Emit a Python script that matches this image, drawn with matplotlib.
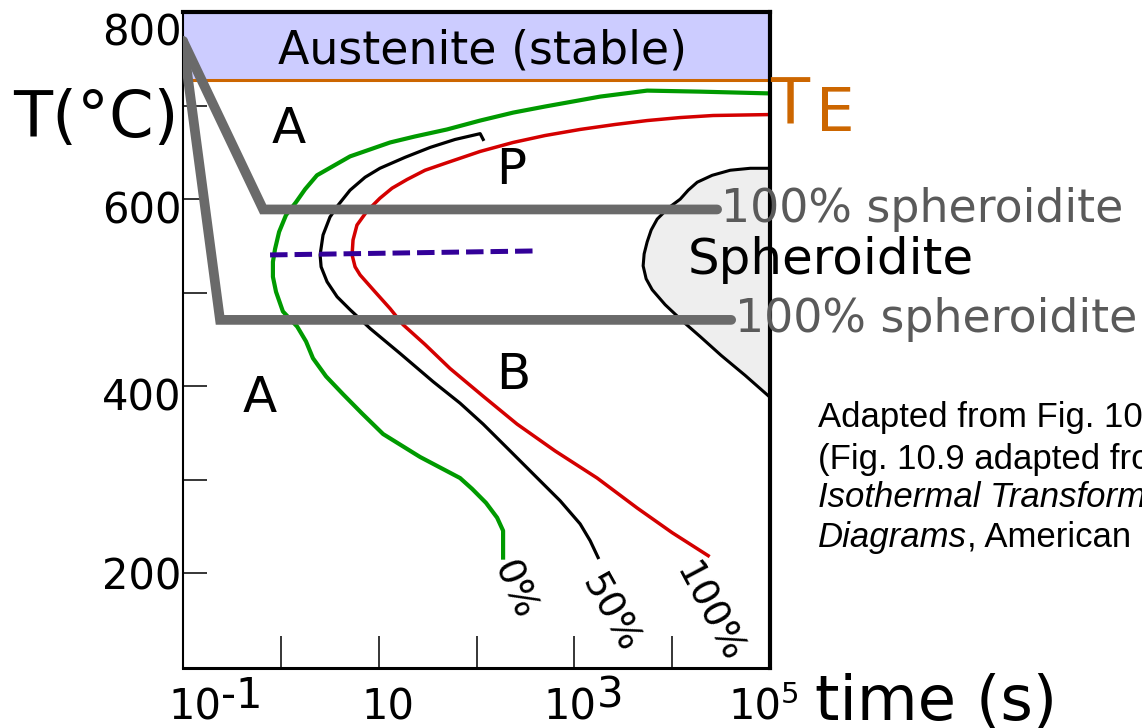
import numpy as np
import matplotlib
matplotlib.use('Agg')
import matplotlib.pyplot as plt
from matplotlib.transforms import ScaledTranslation

# 数据 (time in s, temperature in °C)
T_E = 727
T_MIN, T_MAX = 99, 800

# 0% curve (start of transformation)
t_start = np.array([1e5, 19320, 5550, 1837, 502, 237, 109, 50, 23.5, 13.1, 5.1, 2.34,
                    1.77, 1.43, 1.13, 0.96, 0.873, 0.83, 0.83, 0.893, 1.05, 1.47, 1.81,
                    2.13, 2.9, 4.33, 6.76, 11.1, 26.5, 67.9, 90.2, 125, 162.5, 187, 187])
T_start = np.array([713, 714.9, 716, 709.6, 699, 692.5, 684, 674.5, 667, 660.6, 645.7,
                    625.5, 610.6, 596.8, 583, 565, 546.8, 533, 517, 501, 480, 463.8,
                    447.9, 430, 410.6, 391.5, 371, 349, 324.5, 302, 290.4, 275.5, 259.6,
                    245.7, 217])

# 50% curve
t_half = np.array([117, 109, 60.4, 33.6, 18.6, 10.3, 7.26, 5.1, 3.85, 3.18, 2.70, 2.52,
                   2.58, 2.97, 3.76, 5.1, 8.2, 16.6, 36, 67.9, 117, 221, 447, 716, 1146,
                   1452, 1750])
T_half = np.array([663.8, 670, 663.8, 655.3, 644.7, 633, 623.4, 609.6, 593.6, 580.9,
                   561.7, 540.4, 527.7, 511.7, 495.7, 481.9, 461.7, 435, 405, 382, 359.6,
                   330.9, 299, 277.7, 253, 235, 217])

# 100% curve (end of transformation)
t_end = np.array([1e5, 26240, 12080, 5546, 2612, 1146, 502, 237, 109, 50, 29.8, 19.5,
                  13.7, 10.3, 7.6, 6.0, 5.47, 5.35, 5.74, 6.46, 9.18, 13.1, 17.7, 29.8,
                  53.7, 117, 260, 637, 1710, 4385, 10000, 23350])
T_end = np.array([690.4, 689.4, 687.2, 684, 679.8, 674.5, 668, 660.6, 651, 639, 630.9,
                  621, 611.7, 601, 587.2, 572.3, 556.4, 540.4, 527.7, 519, 501, 483, 466,
                  444.7, 419, 389.4, 359.6, 330.9, 302, 270, 243.6, 219])

# spheroidite region outline
t_sph = np.array([1e5, 62800, 39200, 25650, 18030, 14590, 12080, 9100, 7030, 6100, 5550,
                  5170, 5050, 5420, 6250, 8480, 12940, 19320, 31700, 55700, 1e5])
T_sph = np.array([633, 633, 630.9, 625.5, 618.1, 609.6, 600, 590.4, 578.7, 567, 554.3,
                  541.5, 528.7, 514.9, 503.2, 487.2, 469.1, 453.2, 433, 411.7, 388.3])

# cooling paths
t_path1 = [0.1, 0.66, 28800]
T_path1 = [769, 589, 589]
t_path2 = [0.1, 0.239, 40100]
T_path2 = [769, 471, 471]

t_iso = [0.776, 417]
T_iso = [540.4, 544.7]

x_ticks = [1, 10, 100, 1e3, 1e4]
y_ticks = [200, 300, 400, 500, 600, 700, 800]
y_labels = ['200', '', '400', '', '600', '', '800']
x_label_pos = [0.1, 10, 1e3, 1e5]
x_label_exp = ['-1', '', '3', '5']

region_labels = [('A', 1.21, 675.5), ('P', 226, 631), ('A', 0.61, 388), ('B', 237, 411.7)]
pct_labels = [('0%', 242, 182, -67), ('50%', 2270, 157, -61), ('100%', 23350, 157, -62)]

cite_lines = ['Adapted from Fig. 10.22, Callister 7e.',
              '(Fig. 10.9 adapted from H. Boyer (Ed.) Atlas of',
              'Isothermal Transformation and Cooling Transformation',
              'Diagrams']
cite_tail = ', American Society for Metals, 1977, p. 28.)'

GRAY = '#6a6a6a'
ORANGE = '#cc6600'

fig = plt.figure(figsize=(11.42, 7.28), dpi=100)
ax = fig.add_axes([183 / 1142, 60 / 728, 587 / 1142, 656 / 728])
ax.set_xscale('log')
ax.set_xlim(0.1, 1e5)
ax.set_ylim(T_MIN, T_MAX)

# austenite stable zone + TE
ax.axhspan(T_E, T_MAX, color='#ccccff', lw=0, zorder=0)
ax.axhline(T_E, color=ORANGE, lw=2.2, zorder=1)
ax.text(114, 758.5, 'Austenite (stable)', ha='center', va='center', fontsize=33)

# spheroidite region
ax.fill(t_sph, T_sph, facecolor='#eeeeee', edgecolor='black', lw=2.2, zorder=1)

# transformation curves
ax.plot(t_start, T_start, color='#009a00', lw=3, zorder=2)
ax.plot(t_half, T_half, color='black', lw=2.3, zorder=2)
ax.plot(t_end, T_end, color='#d40000', lw=2.5, zorder=2)

ax.plot(t_iso, T_iso, color='#330099', lw=3.6, dashes=(3.5, 1.4), zorder=3)

# cooling paths
for tp, Tp in [(t_path1, T_path1), (t_path2, T_path2)]:
    ax.plot(tp, Tp, color=GRAY, lw=7, solid_capstyle='round', solid_joinstyle='miter',
            zorder=4)
    ax.annotate('100% spheroidite', xy=(tp[-1], Tp[-1]), xytext=(4, 0),
                textcoords='offset pixels', ha='left', va='center', fontsize=33,
                color='#5a5a5a', annotation_clip=False, zorder=5)

ax.text(14600, 535, 'Spheroidite', ha='left', va='center', fontsize=36, zorder=5)

for s, tx, Ty in region_labels:
    ax.text(tx, Ty, s, ha='center', va='center', fontsize=36)

for s, tx, Ty, rot in pct_labels:
    ax.text(tx, Ty, s, ha='center', va='center', fontsize=27, rotation=rot,
            rotation_mode='anchor', clip_on=False)

# TE label
ax.annotate('T', xy=(1e5, T_E), xytext=(0, -44), textcoords='offset pixels',
            ha='left', va='baseline', fontsize=46, color=ORANGE, annotation_clip=False)
ax.annotate('E', xy=(1e5, T_E), xytext=(46, -51), textcoords='offset pixels',
            ha='left', va='baseline', fontsize=44, color=ORANGE, annotation_clip=False)

# y axis label
fig.text(13 / 1142, 1 - 137 / 728, 'T(°C)', ha='left', va='baseline', fontsize=46)

# ticks
ax.set_xticks(x_ticks)
ax.set_xticklabels([])
ax.xaxis.set_minor_locator(matplotlib.ticker.NullLocator())
ax.tick_params(axis='x', direction='in', length=23, width=1.1)
ax.set_yticks(y_ticks)
ax.set_yticklabels(y_labels, fontsize=30)
ax.tick_params(axis='y', direction='in', length=17, width=1.1, pad=1)
ylabs = ax.get_yticklabels()
ylabs[-1].set_va('top')
# 600 / 400 labels sit a bit lower in the original
shift = ScaledTranslation(0, -0.08, fig.dpi_scale_trans)
for lab in (ylabs[2], ylabs[4]):
    lab.set_transform(lab.get_transform() + shift)

# x tick labels with big exponents
offsets = [-15, -17, -31, -42]
for pos, ex, dx in zip(x_label_pos, x_label_exp, offsets):
    base = ax.annotate('10', xy=(pos, 0), xycoords=('data', 'axes fraction'),
                       xytext=(dx, -52), textcoords='offset pixels', ha='left',
                       va='baseline', fontsize=30, annotation_clip=False)
    if ex:
        ax.annotate(ex, xy=(1, 0), xycoords=base, xytext=(0, 12 if ex != '5' else 20),
                    textcoords='offset pixels', ha='left', va='bottom',
                    fontsize=30 if ex != '5' else 21)

ax.annotate('time (s)', xy=(1e5, 0), xycoords=('data', 'axes fraction'),
            xytext=(45, -52), textcoords='offset pixels', ha='left', va='baseline',
            fontsize=45, annotation_clip=False)

for side, w in [('left', 1.5), ('top', 3), ('right', 3), ('bottom', 2.2)]:
    ax.spines[side].set_linewidth(w)

# citation
ys = [417, 459, 498, 538]
last = None
for i, (line, y) in enumerate(zip(cite_lines, ys)):
    style = 'italic' if i >= 2 else 'normal'
    last = fig.text(818 / 1142, 1 - y / 728, line, ha='left', va='center', fontsize=25,
                    family='Liberation Sans', style=style)
fig.canvas.draw()
bb = last.get_window_extent()
fig.text(bb.x1 / 1142, 1 - ys[-1] / 728, cite_tail, ha='left', va='center', fontsize=25,
         family='Liberation Sans')

fig.savefig('out.png', dpi=100)
